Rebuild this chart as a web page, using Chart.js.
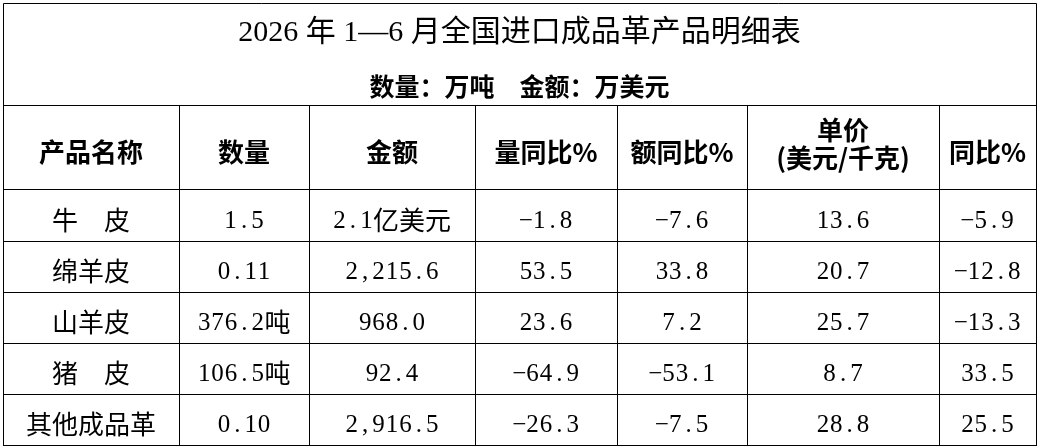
<!DOCTYPE html>
<html>
<head>
<meta charset="utf-8">
<script src="https://cdn.jsdelivr.net/npm/chart.js@4.4.1/dist/chart.umd.min.js"></script>
<style>
  html, body { margin: 0; padding: 0; background: #fff; }
  #wrap { width: 1041px; height: 448px; position: relative; }
</style>
</head>
<body>
<div id="wrap"><canvas id="chart-1"></canvas></div>
<script>
// table data
const headers = ["产品名称", "数量", "金额", "量同比%", "额同比%", ["单价", "(美元/千克)"], "同比%"];
const products = ["牛　皮", "绵羊皮", "山羊皮", "猪　皮", "其他成品革"];
const quantity = ["1.5", "0.11", "376.2吨", "106.5吨", "0.10"];
const amount = ["2.1亿美元", "2,215.6", "968.0", "92.4", "2,916.5"];
const qtyYoY = [-1.8, 53.5, 23.6, -64.9, -26.3];
const amtYoY = [-7.6, 33.8, 7.2, -53.1, -7.5];
const unitPrice = [13.6, 20.7, 25.7, 8.7, 28.8];
const priceYoY = [-5.9, -12.8, -13.3, 33.5, 25.5];

// layout (pixels)
const colWidths = [176, 130, 166, 142, 130, 192, 97];
const rowHeights = [84, 52, 51, 51, 51, 51];
const latinPitch = 13.4;

const fmt = (v) => v.toFixed(1).replace("-", "\u2212");
const columns = [
  products,
  quantity,
  amount,
  qtyYoY.map(fmt),
  amtYoY.map(fmt),
  unitPrice.map(fmt),
  priceYoY.map(fmt),
];

const colEdges = [0];
colWidths.forEach((w) => colEdges.push(colEdges[colEdges.length - 1] + w));
const rowEdges = [0];
rowHeights.forEach((h) => rowEdges.push(rowEdges[rowEdges.length - 1] + h));
const colCenter = (i) => (colEdges[i] + colEdges[i + 1]) / 2;
const rowCenter = (i) => (rowEdges[i] + rowEdges[i + 1]) / 2;

const isCJK = (ch) => /[\u3000-\u9fff\uff00-\uffef]/.test(ch);

// draws text split into CJK / latin runs; latin chars sit in fixed-width slots
function drawRuns(ctx, text, cx, cy, cjkFont, latinFont, latinDy) {
  const runs = [];
  for (const ch of text) {
    const cjk = isCJK(ch);
    const last = runs[runs.length - 1];
    if (last && last.cjk === cjk) last.s += ch;
    else runs.push({ cjk, s: ch });
  }
  let total = 0;
  runs.forEach((r) => {
    ctx.font = cjkFont;
    r.w = r.cjk ? ctx.measureText(r.s).width : [...r.s].length * latinPitch;
    total += r.w;
  });
  let x = cx - total / 2;
  ctx.textBaseline = "middle";
  runs.forEach((r) => {
    if (r.cjk) {
      ctx.font = cjkFont;
      ctx.textAlign = "left";
      ctx.fillText(r.s, x, cy);
    } else {
      ctx.font = latinFont;
      ctx.textAlign = "center";
      [...r.s].forEach((ch, k) => {
        ctx.fillText(ch, x + (k + 0.5) * latinPitch, cy + latinDy);
      });
    }
    x += r.w;
  });
}

const alignPx = (p) => Math.round(p - 0.5) + 0.5;

const tableText = {
  id: "tableText",
  afterDraw(chart) {
    const { ctx, chartArea } = chart;
    const xs = chart.scales.x;
    const ys = chart.scales.y;
    ctx.save();
    // title frame
    ctx.strokeStyle = "#000";
    ctx.lineWidth = 1;
    const l = alignPx(chartArea.left);
    const r = alignPx(chartArea.right);
    const t = alignPx(3);
    ctx.beginPath();
    ctx.moveTo(l, chartArea.top);
    ctx.lineTo(l, t);
    ctx.lineTo(r, t);
    ctx.lineTo(r, chartArea.top);
    ctx.stroke();

    ctx.fillStyle = "#000";
    // header row
    const hy = ys.getPixelForValue(rowCenter(0)) + 5;
    headers.forEach((h, i) => {
      const x = xs.getPixelForValue(colCenter(i));
      ctx.font = "bold 26px 'Noto Sans CJK SC'";
      ctx.textAlign = "center";
      ctx.textBaseline = "middle";
      if (Array.isArray(h)) {
        ctx.fillText(h[0], x, hy - 22);
        ctx.fillText(h[1], x, hy + 6);
      } else {
        ctx.fillText(h, x, hy);
      }
    });

    // body cells from dataset points
    chart.data.datasets.forEach((ds, i) => {
      const meta = chart.getDatasetMeta(i);
      meta.data.forEach((pt, j) => {
        drawRuns(ctx, columns[i][j], pt.x, pt.y + 5,
          "26px 'Noto Sans CJK SC'", "25px 'Liberation Serif'", 1);
      });
    });
    ctx.restore();
  },
};

const ctx1 = document.getElementById("chart-1").getContext("2d");
const tableChart = new Chart(ctx1, {
  type: "scatter",
  data: {
    datasets: columns.map((col, i) => ({
      label: Array.isArray(headers[i]) ? headers[i].join("") : headers[i],
      data: col.map((_, j) => ({ x: colCenter(i), y: rowCenter(j + 1) })),
      pointRadius: 0,
    })),
  },
  options: {
    responsive: true,
    maintainAspectRatio: false,
    animation: false,
    events: [],
    layout: { padding: { top: 3, left: 3, right: 5, bottom: 3 } },
    scales: {
      x: {
        type: "linear",
        min: 0,
        max: colEdges[colEdges.length - 1],
        afterBuildTicks: (scale) => { scale.ticks = colEdges.map((v) => ({ value: v })); },
        ticks: { display: false },
        grid: { color: "#000", lineWidth: 1, drawTicks: false },
        border: { color: "#000", width: 1 },
      },
      y: {
        type: "linear",
        reverse: true,
        min: 0,
        max: rowEdges[rowEdges.length - 1],
        afterBuildTicks: (scale) => { scale.ticks = rowEdges.map((v) => ({ value: v })); },
        ticks: { display: false },
        grid: { color: "#000", lineWidth: 1, drawTicks: false },
        border: { color: "#000", width: 1 },
      },
    },
    plugins: {
      legend: { display: false },
      tooltip: { enabled: false },
      title: {
        display: true,
        text: "2026 年 1—6 月全国进口成品革产品明细表",
        color: "#000",
        font: { family: "'Liberation Serif', 'Noto Sans CJK SC'", size: 30, weight: "normal" },
        padding: { top: 12, bottom: 10 },
      },
      subtitle: {
        display: true,
        text: "数量：万吨　金额：万美元",
        color: "#000",
        font: { family: "'Noto Sans CJK SC'", size: 25, weight: "bold" },
        padding: { top: 10, bottom: 4 },
      },
    },
  },
  plugins: [tableText],
});
</script>
</body>
</html>
